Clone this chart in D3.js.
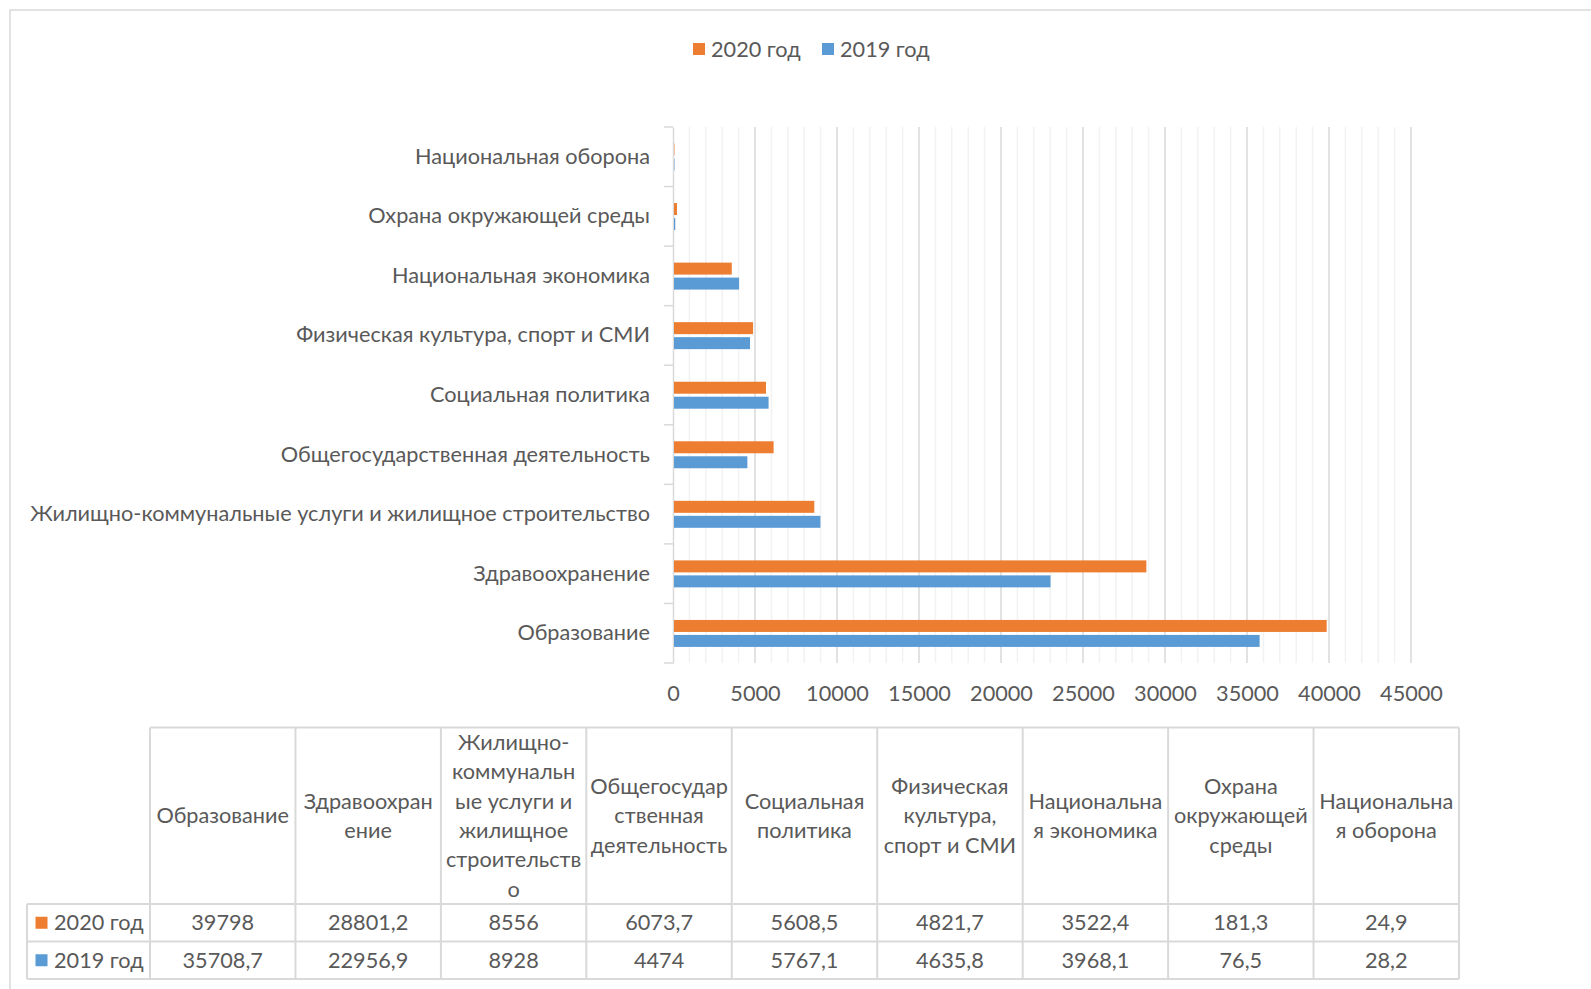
<!DOCTYPE html>
<html><head><meta charset="utf-8">
<script src="https://cdn.jsdelivr.net/npm/d3@7"></script>
<style>
html,body{margin:0;padding:0;background:#fff;}
svg{display:block;font-family:Lato, "Noto Sans", sans-serif;}
</style></head>
<body>
<svg id="c" width="1591" height="989"></svg>
<script>
const categories = ["Образование","Здравоохранение","Жилищно-коммунальные услуги и жилищное строительство","Общегосударственная деятельность","Социальная политика","Физическая культура, спорт и СМИ","Национальная экономика","Охрана окружающей среды","Национальная оборона"];
const headerLabels = ["Образование","Здравоохран\nение","Жилищно-\nкоммунальн\nые услуги и\nжилищное\nстроительств\nо","Общегосудар\nственная\nдеятельность","Социальная\nполитика","Физическая\nкультура,\nспорт и СМИ","Национальна\nя экономика","Охрана\nокружающей\nсреды","Национальна\nя оборона"];
const seriesNames = ["2020 год","2019 год"];
const values2020 = [39798,28801.2,8556,6073.7,5608.5,4821.7,3522.4,181.3,24.9];
const values2019 = [35708.7,22956.9,8928,4474,5767.1,4635.8,3968.1,76.5,28.2];
const valueLabels2020 = ["39798","28801,2","8556","6073,7","5608,5","4821,7","3522,4","181,3","24,9"];
const valueLabels2019 = ["35708,7","22956,9","8928","4474","5767,1","4635,8","3968,1","76,5","28,2"];
const xTicks = [0,5000,10000,15000,20000,25000,30000,35000,40000,45000];
const colors = ["#ED7D31","#5B9BD5"];

const svg = d3.select("#c");
const txt = "#595959", grid = "#d9d9d9", minor = "#f2f2f2";
const FS = 21.7;

// chart frame
svg.append("rect").attr("x",10).attr("y",10).attr("width",1700).attr("height",1100)
  .attr("fill","none").attr("stroke",grid).attr("stroke-width",1.5);

const x = d3.scaleLinear().domain([0,45000]).range([673,1411]);
const y = d3.scaleBand().domain(categories.slice().reverse()).range([127,663]);
const sub = d3.scaleBand().domain(seriesNames).range([y.bandwidth()*0.277, y.bandwidth()*0.73]).paddingInner(0.2);

// minor gridlines
svg.append("g").selectAll("line").data(d3.range(1000,45001,1000).filter(v=>v%5000!==0))
  .join("line").attr("x1",d=>x(d)).attr("x2",d=>x(d)).attr("y1",127).attr("y2",663)
  .attr("stroke",minor).attr("stroke-width",1.5);
// major gridlines
svg.append("g").selectAll("line").data(xTicks.slice(1))
  .join("line").attr("x1",d=>x(d)).attr("x2",d=>x(d)).attr("y1",127).attr("y2",663)
  .attr("stroke",grid).attr("stroke-width",1.5);

// category axis
const ya = d3.axisLeft(y).tickSize(0).tickPadding(23);
const yg = svg.append("g").attr("transform",`translate(${x(0)},0)`).call(ya);
yg.select(".domain").attr("stroke",grid).attr("stroke-width",1.5);
yg.selectAll("text").attr("fill",txt).attr("font-size",FS).attr("font-family","Lato");
// band boundary ticks
svg.append("g").selectAll("line").data(d3.range(categories.length+1))
  .join("line").attr("x1",x(0)-9).attr("x2",x(0)).attr("y1",i=>127+i*y.step()).attr("y2",i=>127+i*y.step())
  .attr("stroke",grid).attr("stroke-width",1.5);

// value axis labels
const xa = d3.axisBottom(x).tickValues(xTicks).tickSize(0).tickPadding(23).tickFormat(d3.format("d"));
const xg = svg.append("g").attr("transform","translate(0,663)").call(xa);
xg.select(".domain").remove();
xg.selectAll("text").attr("fill",txt).attr("font-size",FS).attr("font-family","Lato");

// bars
const series = [values2020, values2019];
series.forEach((vals,si)=>{
  svg.append("g").selectAll("rect").data(vals).join("rect")
    .attr("x",x(0)+1)
    .attr("y",(d,i)=>y(categories[i])+sub(seriesNames[si]))
    .attr("width",d=>Math.max(0,x(d)-x(0)))
    .attr("height",sub.bandwidth())
    .attr("fill",colors[si]);
});

// legend
const leg = svg.append("g");
[[693,seriesNames[0],colors[0]],[822,seriesNames[1],colors[1]]].forEach(([lx,name,c])=>{
  leg.append("rect").attr("x",lx).attr("y",43).attr("width",12).attr("height",12).attr("fill",c);
  leg.append("text").attr("x",lx+18).attr("y",49).attr("dy","0.35em").attr("fill",txt).attr("font-size",FS).text(name);
});

// table
const colX = d3.scaleBand().domain(categories).range([150,1459]);
const rowTop = 727.5, hdrBot = 904, rowH = 37.5;
const tg = svg.append("g");
const lw = 2;
tg.append("line").attr("x1",150).attr("x2",1459).attr("y1",rowTop).attr("y2",rowTop).attr("stroke",grid).attr("stroke-width",lw);
[hdrBot, hdrBot+rowH, hdrBot+2*rowH].forEach(yy=>{
  tg.append("line").attr("x1",27).attr("x2",1459).attr("y1",yy).attr("y2",yy).attr("stroke",grid).attr("stroke-width",lw);
});
tg.append("line").attr("x1",27).attr("x2",27).attr("y1",hdrBot).attr("y2",hdrBot+2*rowH).attr("stroke",grid).attr("stroke-width",lw);
categories.forEach((c,i)=>{
  tg.append("line").attr("x1",colX(c)).attr("x2",colX(c)).attr("y1",rowTop).attr("y2",hdrBot+2*rowH).attr("stroke",grid).attr("stroke-width",lw);
});
tg.append("line").attr("x1",1459).attr("x2",1459).attr("y1",rowTop).attr("y2",hdrBot+2*rowH).attr("stroke",grid).attr("stroke-width",lw);
const LH = 29.4;
categories.forEach((c,i)=>{
  const lines = headerLabels[i].split("\n");
  const cy = (rowTop+hdrBot)/2;
  const t = tg.append("text").attr("text-anchor","middle").attr("fill",txt).attr("font-size",FS);
  lines.forEach((l,j)=>{
    t.append("tspan").attr("x",colX(c)+colX.bandwidth()/2)
     .attr("y",cy+(j-(lines.length-1)/2)*LH).attr("dy","0.35em").text(l);
  });
});
[valueLabels2020, valueLabels2019].forEach((labs,ri)=>{
  const cy = hdrBot + rowH*ri + rowH/2;
  tg.append("rect").attr("x",35.5).attr("y",cy-6).attr("width",12).attr("height",12).attr("fill",colors[ri]);
  tg.append("text").attr("x",54).attr("y",cy).attr("dy","0.35em").attr("fill",txt).attr("font-size",FS).text(seriesNames[ri]);
  categories.forEach((c,i)=>{
    tg.append("text").attr("x",colX(c)+colX.bandwidth()/2).attr("y",cy).attr("dy","0.35em")
      .attr("text-anchor","middle").attr("fill",txt).attr("font-size",FS).text(labs[i]);
  });
});
</script>
</body></html>
